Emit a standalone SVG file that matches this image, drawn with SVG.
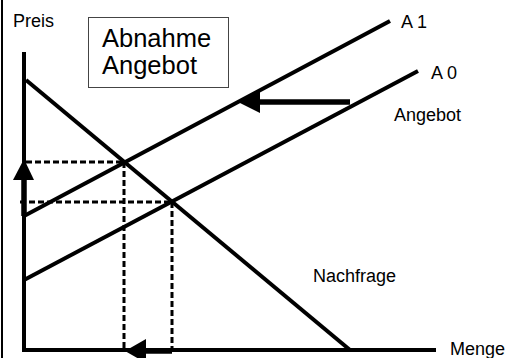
<svg xmlns="http://www.w3.org/2000/svg" width="506" height="358" viewBox="0 0 506 358">
<style>
.t{font-family:"Liberation Sans",Arial,sans-serif;font-size:18px;fill:#000}
.big{font-family:"Liberation Sans",Arial,sans-serif;font-size:25.5px;fill:#000}
.ln{stroke:#000;stroke-width:4;fill:none}
.ds{stroke:#000;stroke-width:3;fill:none;stroke-dasharray:6 3}
.th{stroke:#000;stroke-width:5.5;fill:none}
.hd{fill:#000;stroke:none}
</style>
<rect width="506" height="358" fill="#fff"/>
<line x1="2" y1="0" x2="2" y2="358" stroke="#000" stroke-width="2"/>
<g id="box">
<rect x="88.5" y="17.5" width="140" height="70" fill="#fff" stroke="#444" stroke-width="1"/>
<text class="big" x="102" y="47">Abnahme</text>
<text class="big" x="102" y="74">Angebot</text>
</g>
<g id="axes">
<line class="ln" x1="24" y1="52" x2="24" y2="352"/>
<line class="ln" x1="22" y1="350" x2="436" y2="350"/>
</g>
<g id="connectors">
<line class="ds" x1="26" y1="162" x2="124" y2="162"/>
<line class="ds" x1="124" y1="162" x2="124" y2="348"/>
<line class="ds" x1="20" y1="202" x2="172" y2="202"/>
<line class="ds" x1="172" y1="202" x2="172" y2="348"/>
<line id="nachfrage-line" class="ln" x1="26" y1="80" x2="350" y2="350"/>
<line id="a1-line" class="ln" x1="24" y1="216" x2="390" y2="21"/>
<line id="a0-line" class="ln" x1="24" y1="280" x2="418" y2="71"/>
<line class="th" x1="24" y1="216" x2="24" y2="175"/>
<polygon class="hd" points="24,159 13,180 34,180"/>
<line class="th" x1="172" y1="351" x2="142" y2="351"/>
<polygon class="hd" points="125,351 146,339 146,363"/>
<line class="th" x1="350" y1="102" x2="255" y2="102"/>
<polygon class="hd" points="238,102 260,91 260,113"/>
</g>
<g id="labels">
<text class="t" x="13" y="27">Preis</text>
<text class="t" x="401" y="28">A 1</text>
<text class="t" x="431" y="79">A 0</text>
<text class="t" x="394" y="121">Angebot</text>
<text class="t" x="313" y="282">Nachfrage</text>
<text class="t" x="450" y="355">Menge</text>
</g>
</svg>
